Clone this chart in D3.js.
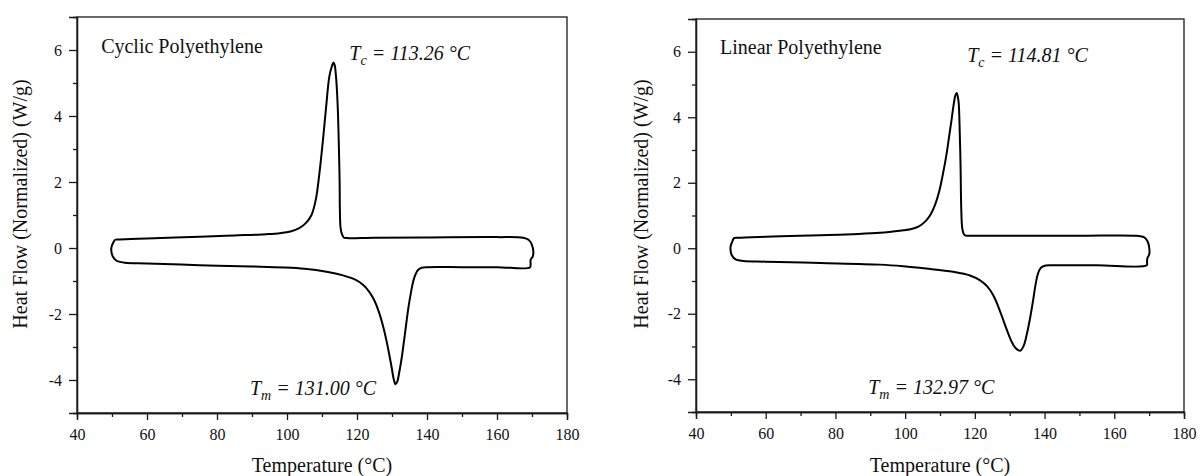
<!DOCTYPE html>
<html>
<head>
<meta charset="utf-8">
<script src="https://cdn.jsdelivr.net/npm/d3@7"></script>
<style>
  html, body { margin: 0; padding: 0; background: #fff; }
  svg { display: block; }
  text { font-family: "Liberation Serif", "Times New Roman", serif; fill: #111; }
</style>
</head>
<body>
<svg id="chart" width="1201" height="476"></svg>
<script>
// DSC traces: [temperature °C, heat flow W/g]
// Heating scan (endotherm, lower branch), starting at the 50 °C turn-around
const cyclicHeating = [
  [50.4, 0.17], [49.8, 0.0], [50.2, -0.25], [51.2, -0.38], [52.3, -0.42], [53.7, -0.45],
  [60, -0.47], [75, -0.52], [90, -0.56], [99, -0.59], [105, -0.63], [111.3, -0.72],
  [116, -0.83], [119.5, -0.96], [121.8, -1.12], [123.5, -1.33], [125.0, -1.6], [126.3, -1.95],
  [127.4, -2.35], [128.4, -2.8], [129.2, -3.22], [129.9, -3.62], [130.5, -3.98], [131.0, -4.13],
  [131.5, -4.05], [132.1, -3.75], [132.8, -3.31], [133.7, -2.6], [134.7, -1.8], [135.5, -1.3],
  [136.1, -0.99], [136.8, -0.78], [137.5, -0.66], [138.5, -0.6], [140, -0.58], [150, -0.58],
  [160, -0.58], [169.4, -0.59], [169.6, -0.5], [169.6, -0.36], [170.2, -0.26]
];
// Cooling scan (exotherm, upper branch), from 170 °C back down to 50 °C
const cyclicCooling = [
  [170.4, -0.13], [169.9, 0.12], [169.0, 0.25], [167.5, 0.31], [160, 0.33], [140, 0.32],
  [125, 0.31], [117, 0.30], [116.3, 0.31], [115.7, 0.42], [115.3, 0.62], [115.0, 2.24],
  [114.5, 4.26], [114.0, 5.2], [113.6, 5.55], [113.26, 5.62], [112.8, 5.5], [112.1, 5.2],
  [111.2, 4.3], [110.3, 3.3], [109.3, 2.3], [108.2, 1.45], [107.0, 1.0], [105.5, 0.77],
  [103.5, 0.6], [101, 0.5], [98, 0.45], [94.2, 0.42], [85, 0.38], [75.1, 0.34],
  [60, 0.29], [52, 0.26], [50.9, 0.25]
];

const linearHeating = [
  [50.4, 0.2], [49.9, 0.04], [50.3, -0.22], [51.5, -0.35], [53.6, -0.39],
  [60, -0.41], [75.6, -0.45], [92.8, -0.50], [99.5, -0.55], [106, -0.62], [113.8, -0.72],
  [118.6, -0.83], [121.5, -0.98], [123.6, -1.17], [125.2, -1.42], [126.6, -1.75], [127.9, -2.12],
  [129.2, -2.5], [130.4, -2.82], [131.6, -3.04], [132.97, -3.13], [134.0, -2.98], [135.0, -2.58],
  [135.9, -2.1], [136.7, -1.6], [137.4, -1.12], [138.1, -0.78], [138.9, -0.6], [139.8, -0.54],
  [142, -0.52], [155, -0.52], [169.3, -0.52], [169.4, -0.42], [169.5, -0.3], [170.0, -0.2]
];
const linearCooling = [
  [170.1, -0.06], [169.6, 0.2], [168.5, 0.34], [166.4, 0.38], [150, 0.38], [130, 0.38],
  [118, 0.38], [117.5, 0.38], [116.9, 0.42], [116.4, 0.6], [116.1, 1.2], [115.9, 2.5],
  [115.6, 3.8], [115.3, 4.5], [114.81, 4.74], [114.4, 4.66], [113.8, 4.3], [113.3, 3.91],
  [112.6, 3.4], [111.9, 2.89], [110.9, 2.3], [109.8, 1.75], [108.6, 1.33], [107.3, 1.03],
  [105.8, 0.82], [103.8, 0.66], [101.5, 0.58], [99.5, 0.55], [92.8, 0.47], [85, 0.43],
  [75.6, 0.40], [69.8, 0.38], [60, 0.35], [52, 0.32], [50.9, 0.31]
];

const xMajorTicks = [40, 60, 80, 100, 120, 140, 160, 180];
const xMinorTicks = [50, 70, 90, 110, 130, 150, 170];
const yMajorTicks = [-4, -2, 0, 2, 4, 6];
const yMinorTicks = [-3, -1, 1, 3, 5];

const sampleNames = ["Cyclic Polyethylene", "Linear Polyethylene"];
const tcValues = ["113.26", "114.81"];
const tmValues = ["131.00", "132.97"];
const xTitle = "Temperature (°C)";
const yTitle = "Heat Flow (Normalized) (W/g)";

const serif = '"Liberation Serif", "Times New Roman", serif';
const svg = d3.select("#chart");

const panels = [
  { heating: cyclicHeating, cooling: cyclicCooling, name: sampleNames[0], tc: tcValues[0], tm: tmValues[0],
    left: 77, right: 567, top: 17, bottom: 413, titleX: 27 },
  { heating: linearHeating, cooling: linearCooling, name: sampleNames[1], tc: tcValues[1], tm: tmValues[1],
    left: 696, right: 1184, top: 19, bottom: 412, titleX: 648 }
];

panels.forEach(p => {
  const x = d3.scaleLinear().domain([40, 180]).range([p.left, p.right]);
  const y = d3.scaleLinear().domain([-5, 7]).range([p.bottom, p.top]);
  const g = svg.append("g");

  // frame
  g.append("rect")
    .attr("x", p.left).attr("y", p.top)
    .attr("width", p.right - p.left).attr("height", p.bottom - p.top)
    .attr("fill", "none").attr("stroke", "#1a1a1a").attr("stroke-width", 1.3);

  // x axis (major + minor)
  g.append("g").attr("transform", `translate(0,${p.bottom})`)
    .call(d3.axisBottom(x).tickValues(xMajorTicks).tickSize(7).tickPadding(9).tickFormat(d => String(d)));
  g.append("g").attr("transform", `translate(0,${p.bottom})`)
    .call(d3.axisBottom(x).tickValues(xMinorTicks).tickSize(4).tickFormat(""));

  // y axis (major + minor)
  g.append("g").attr("transform", `translate(${p.left},0)`)
    .call(d3.axisLeft(y).tickValues(yMajorTicks).tickSize(8).tickPadding(7).tickFormat(d => String(d)));
  g.append("g").attr("transform", `translate(${p.left},0)`)
    .call(d3.axisLeft(y).tickValues(yMinorTicks).tickSize(4).tickFormat(""));

  g.selectAll("g").attr("font-family", serif).attr("font-size", 16);
  g.selectAll(".domain").attr("stroke", "#1a1a1a").attr("stroke-width", 1.3);
  g.selectAll(".tick line").attr("stroke", "#1a1a1a").attr("stroke-width", 1.3);
  g.selectAll(".tick text")
    .attr("font-family", serif)
    .style("font-family", serif)
    .style("font-size", "16px").attr("fill", "#111");

  // axis titles
  g.append("text")
    .attr("x", (p.left + p.right) / 2).attr("y", 472)
    .attr("text-anchor", "middle").style("font-size", "20px")
    .text(xTitle);
  g.append("text")
    .attr("transform", `translate(${p.titleX},204) rotate(-90)`)
    .attr("text-anchor", "middle").style("font-size", "20px")
    .text(yTitle);

  // DSC loop: heating branch followed by cooling branch, closed at 50 °C
  const trace = p.heating.concat(p.cooling);
  const line = d3.line()
    .x(d => x(d[0])).y(d => y(d[1]))
    .curve(d3.curveCatmullRomClosed.alpha(0.5));
  g.append("path")
    .datum(trace)
    .attr("d", line)
    .attr("fill", "none").attr("stroke", "#000").attr("stroke-width", 2)
    .attr("stroke-linejoin", "round");

  // annotations
  g.append("text")
    .attr("x", x(46.9)).attr("y", y(5.92))
    .style("font-size", "20px")
    .text(p.name);

  const tcText = g.append("text")
    .attr("x", x(117.8)).attr("y", y(5.7))
    .style("font-size", "20px").style("font-style", "italic");
  tcText.append("tspan").text("T");
  tcText.append("tspan").attr("dy", 5).style("font-size", "14px").text("c");
  tcText.append("tspan").attr("dy", -5).text(` = ${p.tc} °C`);

  const tmText = g.append("text")
    .attr("x", x(89.4)).attr("y", y(-4.45))
    .style("font-size", "20px").style("font-style", "italic");
  tmText.append("tspan").text("T");
  tmText.append("tspan").attr("dy", 5).style("font-size", "14px").text("m");
  tmText.append("tspan").attr("dy", -5).text(` = ${p.tm} °C`);
});
</script>
</body>
</html>
